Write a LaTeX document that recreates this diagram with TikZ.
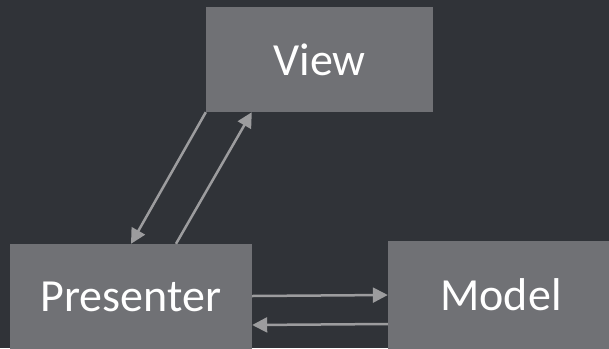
\documentclass[tikz,border=0pt]{standalone}
\usepackage{fontspec}
\setmainfont{Carlito}
\usetikzlibrary{arrows.meta,calc}
\definecolor{bgc}{HTML}{303338}
\definecolor{boxc}{HTML}{707175}
\definecolor{arrc}{HTML}{9C9C9E}
\tikzset{
  blockbox/.style={fill=boxc, draw=none, text=white, inner sep=0pt, anchor=center,
    font=\fontsize{46}{50}\selectfont},
  conn/.style={draw=arrc, line width=2.5pt, -{Triangle[length=15pt,width=15pt]}}
}
\begin{document}
\begin{tikzpicture}[x=1pt,y=-1pt]
\path[use as bounding box] (0,0) rectangle (609,348);
\clip (0,0) rectangle (609,348);
\fill[bgc] (0,0) rectangle (609,348);
\node[blockbox, minimum width=227pt, minimum height=105pt] (view) at (319.5,59.5) {View};
\node[blockbox, minimum width=242pt, minimum height=106pt] (presenter) at (131,297) {Presenter};
\node[blockbox, minimum width=226pt, minimum height=108pt] (model) at (501,295) {Model};
\draw[conn] (view.south west) -- (presenter.north);
\draw[conn] ($(presenter.north)+(45,0)$) -- ($(view.south west)+(46,0)$);
\draw[conn] ($(presenter.east)+(0,-1)$) -- ($(model.west)+(0,0)$);
\draw[conn] ($(model.west)+(0,29)$) -- ($(presenter.east)+(0,28)$);
\end{tikzpicture}
\end{document}
